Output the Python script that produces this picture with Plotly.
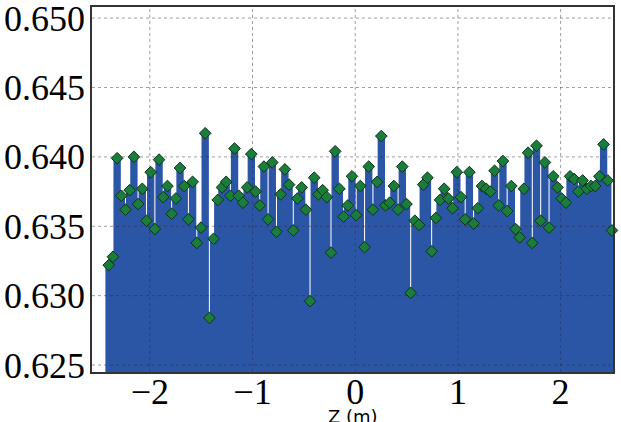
import numpy as np
import plotly.graph_objects as go

# Data: value at each z position (121 evenly spaced points)
z_start, z_stop, n_points = -2.4, 2.5, 121
values = [
    0.6322, 0.6328, 0.6399, 0.6372, 0.6362, 0.6376, 0.6400, 0.6366, 0.6377, 0.6354,
    0.6389, 0.6348, 0.6398, 0.6371, 0.6379, 0.6359, 0.6370, 0.6392, 0.6379, 0.6355,
    0.6382, 0.6338, 0.6349, 0.6417, 0.6284, 0.6341, 0.6369, 0.6378, 0.6382, 0.6372,
    0.6406, 0.6372, 0.6367, 0.6378, 0.6402, 0.6375, 0.6365, 0.6393, 0.6355, 0.6396,
    0.6346, 0.6373, 0.6391, 0.6380, 0.6347, 0.6370, 0.6378, 0.6362, 0.6296, 0.6385,
    0.6373, 0.6376, 0.6371, 0.6331, 0.6404, 0.6377, 0.6357, 0.6365, 0.6386, 0.6358,
    0.6379, 0.6335, 0.6393, 0.6362, 0.6382, 0.6415, 0.6365, 0.6367, 0.6379, 0.6362,
    0.6393, 0.6366, 0.6302, 0.6354, 0.6351, 0.6380, 0.6385, 0.6332, 0.6356, 0.6369,
    0.6377, 0.6370, 0.6363, 0.6389, 0.6371, 0.6355, 0.6389, 0.6352, 0.6363, 0.6379,
    0.6377, 0.6375, 0.6390, 0.6365, 0.6397, 0.6361, 0.6379, 0.6348, 0.6342, 0.6377,
    0.6403, 0.6338, 0.6408, 0.6354, 0.6396, 0.6349, 0.6386, 0.6378, 0.6370, 0.6367,
    0.6386, 0.6384, 0.6375, 0.6383, 0.6377, 0.6379, 0.6379, 0.6386, 0.6409, 0.6383,
    0.6347,
]
z = np.linspace(z_start, z_stop, n_points)

x_ticks = [-2, -1, 0, 1, 2]
x_ticktext = ["\u22122", "\u22121", "0", "1", "2"]
y_ticks = [0.625, 0.630, 0.635, 0.640, 0.645, 0.650]
y_ticktext = ["0.625", "0.630", "0.635", "0.640", "0.645", "0.650"]

x_range = [-2.563, 2.51]
y_range = [0.6245, 0.6508]

BLUE = "#2b56a6"
GREEN = "#1b7d3c"

# Build the filled envelope: between neighbours the fill sits at the higher
# value, with a narrow notch down to every sample.
dz = z[1] - z[0]
e = 0.005
fx, fy = [z[0] - 0.8 * dz], [values[0]]
for i in range(n_points):
    left = values[i] if i == 0 else max(values[i - 1], values[i])
    right = values[i] if i == n_points - 1 else max(values[i], values[i + 1])
    fx += [z[i] - e, z[i] - e, z[i] + e, z[i] + e]
    fy += [left, values[i], values[i], right]
fx.append(z[-1] + 0.8 * dz)
fy.append(values[-1])

# grid lines (drawn above the fill, below the markers)
gx, gy = [], []
for t in x_ticks:
    gx += [t, t, None]
    gy += [y_range[0], y_range[1], None]
for t in y_ticks:
    gx += [x_range[0], x_range[1], None]
    gy += [t, t, None]

fig = go.Figure()
fig.add_trace(go.Scatter(x=fx, y=fy, mode="lines", fill="tozeroy",
                         fillcolor=BLUE, line=dict(width=0, color=BLUE),
                         hoverinfo="skip", showlegend=False))
fig.add_trace(go.Scatter(x=gx, y=gy, mode="lines",
                         line=dict(color="rgba(40,40,60,0.45)", width=1, dash="dot"),
                         hoverinfo="skip", showlegend=False))
fig.add_trace(go.Scatter(x=z, y=values, mode="markers", cliponaxis=False,
                         marker=dict(symbol="diamond", size=9, color=GREEN,
                                     line=dict(color="#0d3318", width=1)),
                         showlegend=False))

axis_common = dict(showgrid=False, zeroline=False, showline=True, mirror=True,
                   linecolor="#333333", linewidth=1.5, ticks="", automargin=False,
                   ticklabeloverflow="allow",
                   tickfont=dict(family="Liberation Serif", size=36, color="black"))
fig.update_xaxes(range=x_range, tickvals=x_ticks, ticktext=x_ticktext,
                 ticklabelstandoff=-13, **axis_common)
fig.update_yaxes(range=y_range, tickvals=y_ticks, ticktext=y_ticktext,
                 ticklabelstandoff=-2, **axis_common)

fig.add_annotation(text="Z (m)", xref="paper", yref="paper", x=0.5, y=-0.088,
                   xanchor="center", yanchor="top", showarrow=False,
                   font=dict(family="DejaVu Sans", size=18, color="black"))

fig.update_layout(width=621, height=422, paper_bgcolor="white", plot_bgcolor="white",
                  margin=dict(l=92, r=8, t=7, b=50))
fig.write_html("out.html", config={"displayModeBar": False},
               post_script="document.body.style.margin='0';"
                           "document.body.style.overflow='hidden';")
